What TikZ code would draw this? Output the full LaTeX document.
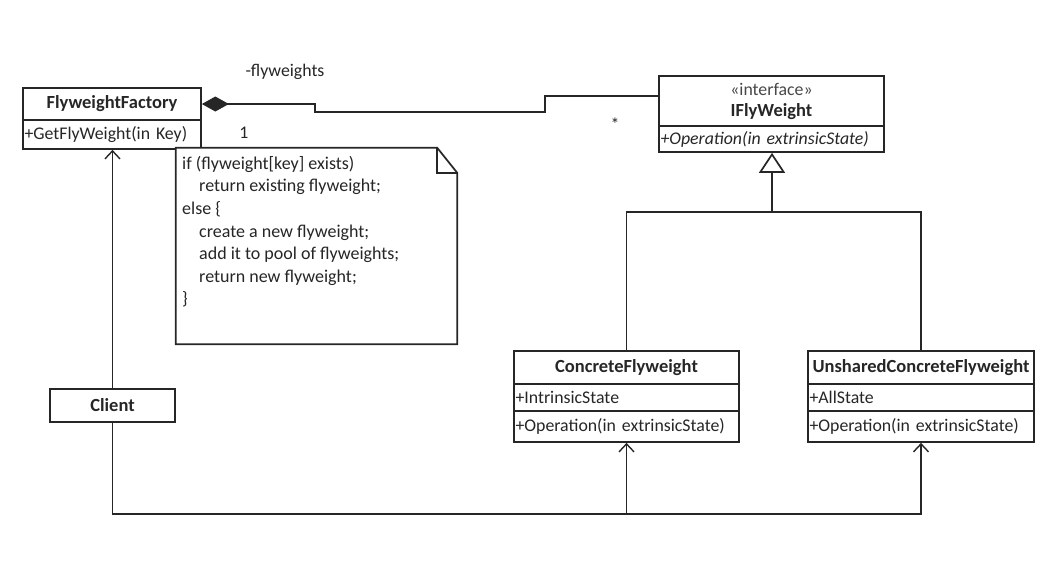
\documentclass[tikz,border=0pt]{standalone}
\usepackage{fontspec}
\setmainfont{Carlito}
\usetikzlibrary{arrows.meta,calc}
\definecolor{ink}{HTML}{262626}
\newcommand{\regfont}{\fontsize{17.8}{20}\selectfont}
\newcommand{\hdfont}{\fontsize{18.5}{20}\selectfont\bfseries}
\tikzset{
  comp/.style={draw=ink, line width=1.7pt, rectangle, inner sep=0pt, text=ink, font=\regfont},
  left comp/.style={comp, align=left, inner xsep=1.5pt},
  head comp/.style={comp, font=\hdfont},
  lbl/.style={text=ink, font=\regfont, inner sep=0pt},
  conn/.style={draw=ink, line width=1.7pt},
  dep/.style={conn, -{Straight Barb[length=8pt,width=15pt,line width=1.4pt]}},
  gen/.style={conn, -{Triangle[open,length=20pt,width=26pt,fill=white]}},
  agg/.style={conn, {Diamond[length=27pt,width=15pt,fill=ink]}-},
}
\begin{document}
\begin{tikzpicture}[x=1pt,y=-1pt]
\useasboundingbox (0,0) rectangle (1064,566);
% FlyweightFactory
\node[head comp, minimum width=178pt, minimum height=32pt] (ffh) at (112,104) {FlyweightFactory};
\node[left comp, minimum height=29pt, text width=175pt] (ffo) at (112,134.5) {+GetFlyWeight(in Key)};
% IFlyWeight
\node[comp, minimum width=225pt, minimum height=50pt, align=center] (ifh) at (771.5,101) {{\color{ink!85}«interface»}\\[1pt]{\hdfont IFlyWeight}};
\node[left comp, minimum height=26pt, text width=222pt, font=\regfont\itshape] (ifo) at (771.5,139) {+Operation(in extrinsicState)};
% ConcreteFlyweight
\node[head comp, minimum width=225pt, minimum height=33pt] (cfh) at (626.5,367.5) {ConcreteFlyweight};
\node[left comp, minimum height=27pt, text width=222pt] (cfa) at (626.5,397.5) {+IntrinsicState};
\node[left comp, minimum height=31pt, text width=222pt] (cfo) at (626.5,426.5) {+Operation(in extrinsicState)};
% UnsharedConcreteFlyweight
\node[head comp, minimum width=226pt, minimum height=33pt] (ufh) at (921,367.5) {UnsharedConcreteFlyweight};
\node[left comp, minimum height=27pt, text width=223pt] (ufa) at (921,397.5) {+AllState};
\node[left comp, minimum height=31pt, text width=223pt] (ufo) at (921,426.5) {+Operation(in extrinsicState)};
% Client
\node[head comp, minimum width=125pt, minimum height=33pt] (cl) at (112.5,405.5) {Client};
% Note
\node[minimum width=281pt, minimum height=196pt, inner sep=0pt] (note) at (316.5,246) {};
\draw[conn, fill=white] (note.north west) -- ([xshift=-20pt]note.north east) -- ([yshift=-25pt]note.north east) -- (note.south east) -- (note.south west) -- cycle;
\draw[conn] ([xshift=-20pt]note.north east) |- ([yshift=-25pt]note.north east);
\node[lbl, anchor=north west, align=left, font=\fontsize{18}{22.6}\selectfont] (notetext) at (182,156) {if (flyweight[key] exists)\\
\hspace*{17pt}return existing flyweight;\\
else \{\\
\hspace*{17pt}create a new flyweight;\\
\hspace*{17pt}add it to pool of flyweights;\\
\hspace*{17pt}return new flyweight;\\
\}};
% Aggregation
\coordinate (a1) at (315,112);
\coordinate (a2) at (545,96);
\draw[agg] (ffh.east) -| (a1) -| (a2) -- (a2 -| ifh.west);
\node[lbl] (mult1) at (285,72) {-flyweights};
\node[lbl] (mult2) at (244,133) {1};
\node[lbl] (mult3) at (615,124) {*};
% Generalization
\coordinate (gj) at (772,212);
\draw[conn] (cfh.north) |- (gj) -| (ufh.north);
\draw[gen] (gj) -- (gj |- ifo.south);
% Dependencies
\coordinate (bot) at (0,514);
\draw[dep] (cl.north) -- (cl.north |- ffo.south);
\draw[dep] (cl.south) |- (ufo.south |- bot) -- (ufo.south);
\draw[dep] (cfo.south |- bot) -- (cfo.south);
\end{tikzpicture}
\end{document}
